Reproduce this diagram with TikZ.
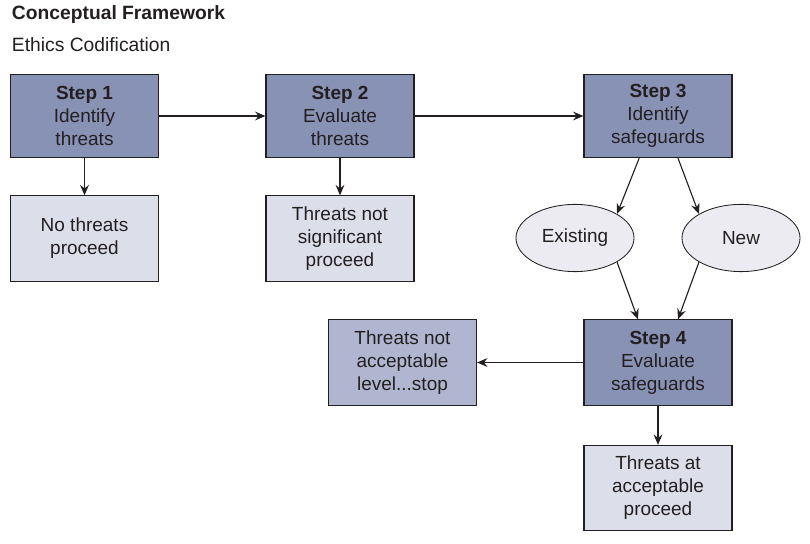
\documentclass[tikz,border=0pt]{standalone}
\usepackage{fontspec}
\setmainfont{Liberation Sans}
\usetikzlibrary{shapes.geometric,arrows.meta}
\definecolor{stepblue}{HTML}{8892B4}
\definecolor{paleblue}{HTML}{DCDEE9}
\definecolor{midblue}{HTML}{B1B6D0}
\definecolor{ovalgrey}{HTML}{EBEBF1}
\definecolor{inkgrey}{HTML}{231F20}
\tikzset{
  stepbox/.style={draw=inkgrey,line width=0.8pt,fill=stepblue,text=inkgrey,align=center,
    minimum width=3.7cm,minimum height=2.08cm,inner sep=0pt,
    font=\fontsize{13.5}{16.3}\selectfont},
  outbox/.style={stepbox,fill=paleblue,minimum height=2.13cm},
  stopbox/.style={outbox,fill=midblue},
  oval/.style={ellipse,draw=inkgrey,line width=0.6pt,fill=ovalgrey,text=inkgrey,
    minimum width=2.95cm,minimum height=1.68cm,inner sep=0pt,
    font=\fontsize{13.5}{16.3}\selectfont},
  arr/.style={draw=inkgrey,line width=0.8pt,-{Stealth[length=2.6mm,width=2.2mm,inset=0.9mm]}}
}
\begin{document}
\begin{tikzpicture}[x=0.025cm,y=-0.025cm]
                \useasboundingbox (0,0) rectangle (810,544);
                %% titles
                \node[anchor=west,text=inkgrey,font=\fontsize{13.7}{16}\selectfont\bfseries] (title) at (7,15) {Conceptual Framework};
                \node[anchor=west,text=inkgrey,font=\fontsize{13.7}{16}\selectfont] (subtitle) at (7,45) {Ethics Codification};
                %% steps
                \node[stepbox] (s1) at (84.5,116) {\textbf{Step 1}\\Identify\\threats};
                \node[stepbox] (s2) at (340,116) {\textbf{Step 2}\\Evaluate\\threats};
                \node[stepbox] (s3) at (658,116) {\textbf{Step 3}\\Identify\\safeguards};
                \node[stepbox,minimum height=2.13cm] (s4) at (658,362.5) {\textbf{Step 4}\\Evaluate\\safeguards};
                %% outcomes
                \node[outbox] (none) at (84.5,238.5) {No threats\\proceed};
                \node[outbox] (insig) at (340,238.5) {Threats not\\significant\\proceed};
                \node[stopbox] (stop) at (402.5,362.5) {Threats not\\acceptable\\level...stop};
                \node[outbox] (ok) at (658,488) {Threats at\\acceptable\\proceed};
                %% safeguards
                \node[oval] (ex) at (575,238) {Existing};
                \node[oval] (nw) at (741,238) {New};
                %% arrows
                \draw[arr] (s1) -- (s2);
                \draw[arr] (s2) -- (s3);
                \draw[arr] (s1) -- (none);
                \draw[arr] (s2) -- (insig);
                \draw[arr] ([xshift=-0.47cm]s3.south) -- (ex.north east);
                \draw[arr] ([xshift=0.5cm]s3.south) -- (nw.north west);
                \draw[arr] (ex.south east) -- ([xshift=-0.5cm]s4.north);
                \draw[arr] (nw.south west) -- ([xshift=0.5cm]s4.north);
                \draw[arr] (s4) -- (stop);
                \draw[arr] (s4) -- (ok);
            \end{tikzpicture}
\end{document}
